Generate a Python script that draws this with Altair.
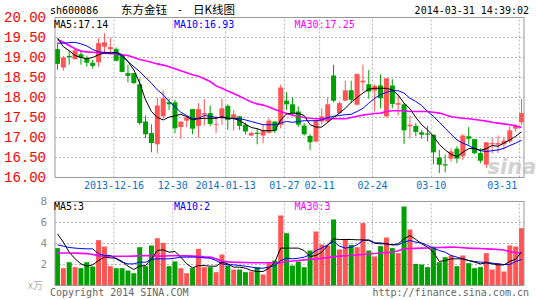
import altair as alt
import pandas as pd

# ---------------- data ----------------
opens = [19.21, 18.75, 19.04, 18.96, 19.08, 18.98, 18.87, 18.88, 19.27, 19.21,
         19.21, 19.05, 18.61, 18.61, 18.33, 17.40, 17.11, 16.83, 17.53, 17.88,
         17.88, 17.26, 17.42, 17.71, 17.29, 17.57, 17.61, 17.31, 17.48, 17.79,
         17.47, 17.53, 17.32, 17.05, 17.12, 17.05, 17.12, 17.40, 17.32, 17.92,
         17.83, 17.65, 17.30, 17.04, 16.90, 17.40, 17.40, 18.55, 17.61, 17.92,
         18.18, 17.82, 18.38, 18.33, 18.17, 18.30, 17.53, 18.30, 17.82, 17.83,
         17.28, 17.29, 17.13, 17.10, 17.07, 16.50, 16.33, 16.47, 16.72, 16.53,
         17.03, 16.96, 16.61, 16.32, 16.83, 16.82, 16.83, 16.90, 17.22, 17.38]
closes = [18.84, 19.00, 19.01, 19.18, 19.00, 18.87, 18.79, 19.36, 19.38, 19.26,
          18.92, 18.64, 18.54, 18.36, 17.36, 17.08, 16.86, 17.80, 17.98, 17.83,
          17.23, 17.40, 17.50, 17.22, 17.71, 17.61, 17.34, 17.33, 17.73, 17.44,
          17.58, 17.29, 17.15, 17.11, 17.09, 17.17, 17.42, 17.17, 18.25, 17.83,
          17.61, 17.32, 17.08, 16.88, 17.42, 17.53, 17.83, 17.92, 17.86, 18.18,
          17.94, 18.59, 18.42, 18.15, 18.29, 17.98, 18.48, 17.84, 17.86, 17.18,
          17.32, 17.14, 17.07, 17.07, 16.63, 16.32, 16.30, 16.65, 16.47, 17.05,
          16.97, 16.61, 16.42, 16.88, 16.86, 16.86, 16.92, 17.18, 17.28, 17.61]
highs = [19.36, 19.04, 19.17, 19.23, 19.17, 19.05, 18.94, 19.48, 19.61, 19.50,
         19.25, 19.05, 18.82, 18.61, 18.47, 17.55, 17.33, 18.00, 18.18, 17.97,
         17.94, 17.40, 17.55, 17.71, 17.86, 17.96, 17.80, 17.54, 17.97, 17.83,
         17.69, 17.54, 17.37, 17.15, 17.23, 17.32, 17.48, 17.40, 18.32, 18.13,
         18.00, 17.78, 17.36, 17.08, 17.42, 17.73, 18.00, 18.82, 17.90, 18.42,
         18.42, 18.59, 18.82, 18.69, 18.33, 18.58, 18.48, 18.46, 18.08, 17.86,
         17.55, 17.36, 17.19, 17.29, 17.07, 16.69, 16.57, 16.73, 16.78, 17.08,
         17.26, 16.96, 16.73, 16.88, 16.98, 17.05, 17.02, 17.28, 17.33, 17.97]
lows = [18.69, 18.67, 18.82, 18.94, 18.82, 18.77, 18.72, 18.77, 19.13, 19.07,
        18.90, 18.63, 18.38, 18.34, 17.32, 16.98, 16.63, 16.61, 17.48, 17.69,
        17.11, 16.97, 17.26, 17.08, 17.00, 17.30, 17.28, 17.11, 17.32, 17.19,
        17.17, 17.19, 17.08, 17.03, 16.83, 16.86, 17.10, 17.11, 17.23, 17.69,
        17.57, 17.26, 17.05, 16.69, 16.88, 17.32, 17.36, 17.88, 17.58, 17.92,
        17.86, 17.80, 18.15, 17.97, 17.65, 17.73, 17.50, 17.73, 17.55, 16.84,
        16.98, 17.03, 16.97, 16.90, 16.33, 16.11, 16.13, 16.40, 16.36, 16.44,
        16.82, 16.58, 16.36, 16.23, 16.61, 16.61, 16.69, 16.86, 17.15, 17.32]
volumes = [3.56, 1.65, 2.22, 1.75, 1.65, 2.22, 1.81, 4.32, 3.71, 1.84,
           1.65, 1.65, 1.43, 1.17, 3.65, 1.84, 3.81, 4.50, 4.06, 1.84,
           2.29, 1.65, 1.17, 1.65, 3.49, 1.75, 1.75, 1.27, 2.95, 1.90,
           1.52, 1.52, 1.27, 1.33, 1.75, 1.05, 2.13, 2.38, 6.67, 4.98,
           1.90, 2.29, 1.75, 3.33, 5.14, 3.90, 3.81, 6.29, 3.43, 4.44,
           3.87, 3.65, 5.94, 3.33, 2.76, 3.75, 4.57, 3.56, 3.08, 7.52,
           5.33, 2.06, 2.00, 1.75, 3.71, 2.22, 2.70, 2.86, 1.84, 2.86,
           2.13, 1.65, 1.75, 3.08, 1.52, 2.13, 1.33, 3.81, 3.71, 5.46]
ma5 = [19.49, 19.27, 19.17, 19.05, 19.00, 18.97, 19.00, 19.07, 19.11, 19.11,
       19.13, 19.07, 18.90, 18.69, 18.36, 17.94, 17.65, 17.50, 17.44, 17.51,
       17.54, 17.58, 17.52, 17.44, 17.47, 17.48, 17.48, 17.48, 17.52, 17.48,
       17.47, 17.43, 17.33, 17.25, 17.22, 17.17, 17.17, 17.17, 17.44, 17.59,
       17.61, 17.60, 17.55, 17.32, 17.26, 17.26, 17.38, 17.50, 17.61, 17.73,
       17.88, 18.00, 18.11, 18.21, 18.23, 18.23, 18.23, 18.19, 18.06, 17.86,
       17.72, 17.50, 17.32, 17.19, 17.03, 16.83, 16.69, 16.58, 16.52, 16.63,
       16.72, 16.73, 16.68, 16.72, 16.80, 16.78, 16.86, 16.94, 17.03, 17.14]
ma10 = [19.36, 19.36, 19.37, 19.38, 19.34, 19.29, 19.20, 19.14, 19.13, 19.12,
        19.11, 19.03, 18.90, 18.77, 18.65, 18.50, 18.36, 18.19, 18.07, 17.90,
        17.77, 17.63, 17.55, 17.47, 17.48, 17.55, 17.53, 17.50, 17.50, 17.48,
        17.48, 17.47, 17.44, 17.40, 17.36, 17.32, 17.32, 17.32, 17.36, 17.40,
        17.38, 17.40, 17.42, 17.42, 17.42, 17.44, 17.50, 17.53, 17.55, 17.57,
        17.58, 17.65, 17.73, 17.86, 17.98, 18.07, 18.13, 18.17, 18.17, 18.11,
        17.98, 17.90, 17.80, 17.65, 17.53, 17.38, 17.23, 17.08, 16.94, 16.86,
        16.80, 16.72, 16.67, 16.65, 16.67, 16.69, 16.73, 16.80, 16.86, 16.93]
ma30 = [19.45, 19.38, 19.30, 19.22, 19.16, 19.14, 19.13, 19.12, 19.11, 19.10,
        19.09, 19.07, 19.05, 19.00, 18.95, 18.92, 18.88, 18.84, 18.81, 18.77,
        18.72, 18.67, 18.62, 18.57, 18.53, 18.47, 18.40, 18.29, 18.23, 18.16,
        18.10, 18.03, 17.96, 17.89, 17.84, 17.81, 17.76, 17.70, 17.65, 17.60,
        17.56, 17.53, 17.50, 17.48, 17.47, 17.47, 17.47, 17.47, 17.47, 17.47,
        17.50, 17.53, 17.56, 17.58, 17.60, 17.61, 17.65, 17.67, 17.67, 17.67,
        17.65, 17.65, 17.65, 17.65, 17.63, 17.61, 17.57, 17.52, 17.50, 17.48,
        17.47, 17.45, 17.43, 17.41, 17.38, 17.36, 17.34, 17.32, 17.29, 17.25]
vma5 = [4.92, 4.13, 3.17, 2.54, 2.06, 1.84, 1.97, 2.38, 2.70, 2.63,
        2.60, 2.29, 1.84, 1.52, 1.84, 1.90, 2.54, 3.33, 3.40, 3.17,
        3.24, 2.70, 2.06, 1.68, 1.90, 1.90, 1.84, 1.84, 2.22, 2.06,
        1.75, 1.75, 1.65, 1.43, 1.33, 1.33, 1.65, 2.22, 3.56, 3.56,
        3.56, 3.56, 3.33, 2.76, 2.86, 3.17, 3.81, 4.44, 4.38, 4.38,
        4.38, 4.35, 4.35, 4.29, 4.03, 3.97, 3.97, 3.87, 3.97, 4.44,
        4.76, 4.38, 3.97, 3.65, 3.17, 2.29, 2.38, 2.54, 2.54, 2.54,
        2.38, 2.22, 2.06, 2.16, 2.06, 1.96, 1.96, 2.30, 2.50, 3.20]
vma10 = [3.87, 3.75, 3.62, 3.56, 3.52, 3.49, 3.49, 3.02, 2.86, 2.86,
         2.54, 2.22, 2.06, 2.06, 2.22, 2.22, 2.48, 2.54, 2.54, 2.54,
         2.60, 2.70, 2.70, 2.70, 2.70, 2.63, 2.60, 2.38, 2.06, 1.97,
         1.97, 1.90, 1.84, 1.75, 1.65, 1.65, 1.75, 1.90, 2.38, 2.60,
         2.54, 2.60, 2.70, 2.92, 3.33, 3.56, 3.87, 4.19, 3.75, 3.56,
         3.65, 3.87, 4.29, 4.35, 4.06, 4.06, 3.97, 3.87, 3.87, 4.13,
         4.29, 4.13, 4.06, 3.81, 3.56, 3.33, 3.17, 2.86, 2.70, 2.54,
         2.38, 2.29, 2.22, 2.22, 2.13, 2.06, 2.00, 2.00, 2.29, 2.48]
vma30 = [3.11, 3.10, 3.10, 3.08, 3.06, 3.04, 2.95, 2.82, 2.80, 2.79,
         2.79, 2.78, 2.78, 2.80, 2.83, 2.86, 2.84, 2.80, 2.80, 2.83,
         2.86, 2.84, 2.82, 2.80, 2.78, 2.73, 2.70, 2.54, 2.30, 2.25,
         2.22, 2.20, 2.19, 2.17, 2.16, 2.16, 2.16, 2.16, 2.16, 2.30,
         2.33, 2.38, 2.44, 2.50, 2.54, 2.60, 2.67, 2.73, 2.80, 2.84,
         2.86, 2.90, 2.95, 3.00, 3.05, 3.10, 3.14, 3.17, 3.30, 3.49,
         3.52, 3.54, 3.56, 3.57, 3.60, 3.62, 3.63, 3.65, 3.64, 3.60,
         3.56, 3.54, 3.52, 3.49, 3.46, 3.43, 3.38, 3.22, 3.13, 3.11]

date_labels = ["2013-12-16", "12-30", "2014-01-13", "01-27", "02-11", "02-24", "03-10", "03-31"]
date_index = [10, 20, 29, 39, 45, 54, 64, 79]
price_ticks = [16.0, 16.5, 17.0, 17.5, 18.0, 18.5, 19.0, 19.5, 20.0]
vol_ticks = [2, 4, 6, 8]

# ---------------- build tables ----------------
RED = "#ff5555"
GREEN = "#00a000"
XMIN, XMAX = -0.417, 79.417
W, H = 479, 268
PY = alt.Scale(domain=[13.3, 20.0], nice=False, zero=False)
VY = alt.Scale(domain=[0.0, 268 / 10.5], nice=False, zero=False)
XS = alt.Scale(domain=[XMIN, XMAX], nice=False, zero=False)
COL = alt.Scale(domain=["up", "down"], range=[RED, GREEN])
MONO = "DejaVu Sans Mono"

n = len(opens)
df = pd.DataFrame({
    "i": list(range(n)), "open": opens, "close": closes, "high": highs, "low": lows,
    "vol": volumes, "ma5": ma5, "ma10": ma10, "ma30": ma30,
    "vma5": vma5, "vma10": vma10, "vma30": vma30,
})
df["dir"] = ["up" if c >= o else "down" for o, c in zip(opens, closes)]
df["zero"] = 0.0

X = alt.X("i:Q", scale=XS, axis=None)
C = alt.Color("dir:N", scale=COL, legend=None)

frames = pd.DataFrame({"x0": [XMIN, XMIN], "x1": [XMAX, XMAX],
                       "y0": [16.0, 0.0], "y1": [20.0, 8.0], "p": ["price", "vol"]})
pgrid = pd.DataFrame({"g": [t for t in price_ticks if 16.0 < t < 20.0]})
pgrid["x0"], pgrid["x1"] = XMIN, XMAX
vgrid = pd.DataFrame({"g": [t for t in vol_ticks if t < 8]})
vgrid["x0"], vgrid["x1"] = XMIN, XMAX
dgrid = pd.DataFrame({"gx": [d - 0.37 for d in date_index], "lab": date_labels})
dgrid["p0"], dgrid["p1"], dgrid["v0"], dgrid["v1"] = 16.0, 20.0, 0.0, 8.0

layers = []
# grid lines
layers.append(alt.Chart(pgrid).mark_rule(color="#b4b4b4", strokeDash=[2, 2]).encode(
    x=alt.X("x0:Q", scale=XS, axis=None), x2="x1:Q", y=alt.Y("g:Q", scale=PY, axis=None)))
layers.append(alt.Chart(vgrid).mark_rule(color="#b4b4b4", strokeDash=[2, 2]).encode(
    x=alt.X("x0:Q", scale=XS, axis=None), x2="x1:Q", y=alt.Y("g:Q", scale=VY, axis=None)))
layers.append(alt.Chart(dgrid).mark_rule(color="#b4b4b4", strokeDash=[2, 2]).encode(
    x=alt.X("gx:Q", scale=XS, axis=None), y=alt.Y("p0:Q", scale=PY, axis=None), y2="p1:Q"))
layers.append(alt.Chart(dgrid).mark_rule(color="#b4b4b4", strokeDash=[2, 2]).encode(
    x=alt.X("gx:Q", scale=XS, axis=None), y=alt.Y("v0:Q", scale=VY, axis=None), y2="v1:Q"))

# candles
layers.append(alt.Chart(df).mark_rule(strokeWidth=1).encode(
    x=X, y=alt.Y("low:Q", scale=PY, axis=None), y2="high:Q", color=C))
layers.append(alt.Chart(df).mark_bar(size=5).encode(
    x=X, y=alt.Y("open:Q", scale=PY, axis=None), y2="close:Q", color=C))
# price moving averages
for col, colr, sw in [("ma30", "#ff00ff", 1.6), ("ma10", "#0000ff", 1), ("ma5", "#000000", 1)]:
    layers.append(alt.Chart(df).mark_line(color=colr, strokeWidth=sw).encode(
        x=X, y=alt.Y(f"{col}:Q", scale=PY, axis=None)))

# volume
layers.append(alt.Chart(df).mark_bar(size=5).encode(
    x=X, y=alt.Y("vol:Q", scale=VY, axis=None), y2="zero:Q", color=C))
for col, colr, sw in [("vma30", "#ff00ff", 1.6), ("vma10", "#0000ff", 1), ("vma5", "#000000", 1)]:
    layers.append(alt.Chart(df).mark_line(color=colr, strokeWidth=sw).encode(
        x=X, y=alt.Y(f"{col}:Q", scale=VY, axis=None)))

# frames
layers.append(alt.Chart(frames[frames.p == "price"]).mark_rect(fillOpacity=0, stroke="#999999", strokeWidth=1).encode(
    x=alt.X("x0:Q", scale=XS, axis=None), x2="x1:Q", y=alt.Y("y0:Q", scale=PY, axis=None), y2="y1:Q"))
layers.append(alt.Chart(frames[frames.p == "vol"]).mark_rect(fillOpacity=0, stroke="#999999", strokeWidth=1).encode(
    x=alt.X("x0:Q", scale=XS, axis=None), x2="x1:Q", y=alt.Y("y0:Q", scale=VY, axis=None), y2="y1:Q"))

# axis labels
plab = pd.DataFrame({"v": price_ticks, "lab": [f"{t:.2f}" for t in price_ticks]})
layers.append(alt.Chart(plab).mark_text(align="right", baseline="middle", font="Liberation Mono",
                                        fontSize=14, fill="#ff0000", dx=-4).encode(
    x=alt.value(0), y=alt.Y("v:Q", scale=PY, axis=None), text="lab:N",
    color=alt.value("#ff0000")))
vlab = pd.DataFrame({"v": vol_ticks, "lab": [str(t) for t in vol_ticks]})
layers.append(alt.Chart(vlab).mark_text(align="right", baseline="middle", font=MONO,
                                        fontSize=11, color="#8c8c8c", dx=-3).encode(
    x=alt.value(0), y=alt.Y("v:Q", scale=VY, axis=None), text="lab:N"))
unit = pd.DataFrame({"v": [0.0], "lab": ["x万"]})
layers.append(alt.Chart(unit).mark_text(align="right", baseline="middle", font="Noto Sans CJK SC",
                                        fontSize=10, color="#b0b0b0", dx=-7).encode(
    x=alt.value(0), y=alt.Y("v:Q", scale=VY, axis=None), text="lab:N"))

# date labels
dl = dgrid.iloc[:-1]
layers.append(alt.Chart(dl).mark_text(align="center", baseline="middle", font=MONO,
                                      fontSize=10, color="#0a72c8").encode(
    x=alt.X("gx:Q", scale=XS, axis=None), y=alt.value(168), text="lab:N"))
layers.append(alt.Chart(dgrid.iloc[-1:]).mark_text(align="right", baseline="middle", font=MONO,
                                                   fontSize=10, color="#0a72c8", dx=-2).encode(
    x=alt.X("gx:Q", scale=XS, axis=None), y=alt.value(168), text="lab:N"))


def label(txt, x, y, color="#000000", size=10, font=MONO, align="left", **kw):
    d = pd.DataFrame({"t": [txt]})
    return alt.Chart(d).mark_text(align=align, baseline="middle", font=font, fontSize=size,
                                  color=color, **kw).encode(
        x=alt.value(x), y=alt.value(y), text="t:N")


layers += [
    label("sh600086", 0, -6.5),
    label("东方金钰", 71, -6.5, size=11.5, font="Noto Sans CJK SC"),
    label("-", 128, -6.5, size=11.5, font="Noto Sans CJK SC"),
    label("日K线图", 143, -6.5, size=11.5, font="Noto Sans CJK SC"),
    label("2014-03-31 14:39:02", 479, -6.5, align="right"),
    label(f"MA5:{ma5[-1]:.2f}", 4, 7.5),
    label(f"MA10:{ma10[-1]:.2f}", 124, 7.5, color="#0000ff"),
    label(f"MA30:{ma30[-1]:.2f}", 244.5, 7.5, color="#ff00ff"),
    label("MA5:3", 4, 189.2),
    label("MA10:2", 124, 189.2, color="#0000ff"),
    label("MA30:3", 244.5, 189.2, color="#ff00ff"),
    label("Copyright 2014 SINA.COM", 0, 275.5, color="#666666"),
    label("http://finance.sina.com.cn", 479, 275.5, color="#666666", align="right"),
    label("sina", 462, 150, color="#c4c4c4", size=21, font="DejaVu Sans", align="center",
          fontStyle="italic", fontWeight="bold", opacity=0.75),
]

chart = alt.layer(*layers).resolve_scale(y="independent").properties(
    width=W, height=H,
    autosize=alt.AutoSizeParams(type="none"),
    padding={"left": 50, "top": 17.5, "right": 16, "bottom": 14.5},
    background="#ffffff",
).configure_view(stroke=None)

chart.save("out.html", embed_options={"renderer": "svg", "actions": False})
